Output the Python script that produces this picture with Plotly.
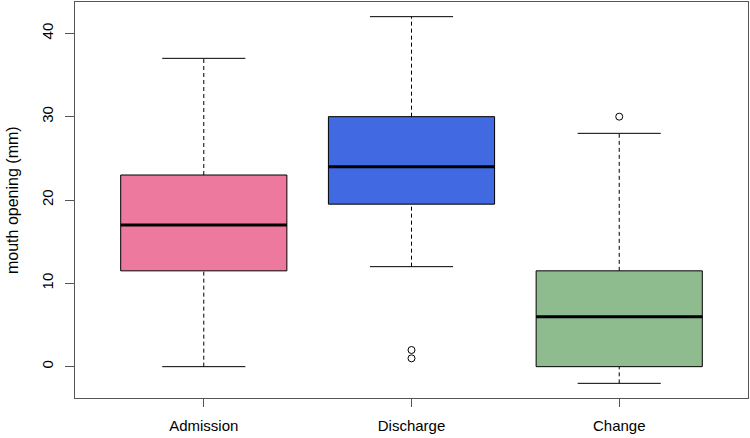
import plotly.graph_objects as go

categories = ["Admission", "Discharge", "Change"]
lower_whisker = [0, 12, -2]
q1 = [11.5, 19.5, 0]
median = [17, 24, 6]
q3 = [23, 30, 11.5]
upper_whisker = [37, 42, 28]
outliers = [[], [1, 2], [30]]
colors = ["#EE799F", "#4169E1", "#8FBC8F"]

y_ticks = [0, 10, 20, 30, 40]

half_box = 0.4
half_cap = 0.2

fig = go.Figure()
for i, name in enumerate(categories):
    x = i + 1
    fig.add_trace(go.Scatter(
        x=[x, x, None, x, x],
        y=[q3[i], upper_whisker[i], None, lower_whisker[i], q1[i]],
        mode="lines", line=dict(color="black", width=1, dash="4px,3px"),
        showlegend=False, hoverinfo="skip"))
    fig.add_trace(go.Scatter(
        x=[x - half_cap, x + half_cap, None, x - half_cap, x + half_cap],
        y=[upper_whisker[i], upper_whisker[i], None, lower_whisker[i], lower_whisker[i]],
        mode="lines", line=dict(color="black", width=1),
        showlegend=False, hoverinfo="skip"))
    fig.add_trace(go.Scatter(
        x=[x - half_box, x + half_box, x + half_box, x - half_box, x - half_box],
        y=[q1[i], q1[i], q3[i], q3[i], q1[i]],
        mode="lines", fill="toself", fillcolor=colors[i],
        line=dict(color="black", width=1), name=name, showlegend=False))
    fig.add_trace(go.Scatter(
        x=[x - half_box, x + half_box], y=[median[i], median[i]],
        mode="lines", line=dict(color="black", width=3),
        showlegend=False, hoverinfo="skip"))
    if outliers[i]:
        fig.add_trace(go.Scatter(
            x=[x] * len(outliers[i]), y=outliers[i], mode="markers",
            marker=dict(symbol="circle-open", size=7, color="black",
                        line=dict(width=1, color="black")),
            showlegend=False))

font = "Liberation Sans, Arial, sans-serif"
fig.update_layout(
    width=750, height=438,
    margin=dict(l=75, r=2, t=2, b=40),
    paper_bgcolor="white", plot_bgcolor="white",
    font=dict(family=font, color="black", size=15),
    xaxis=dict(range=[0.38, 3.62], tickvals=[1, 2, 3], ticktext=categories,
               automargin=False,
               showgrid=False, zeroline=False, showline=True, mirror=True,
               linecolor="#555", linewidth=1, ticks="outside", ticklen=8,
               tickcolor="#555", ticklabelstandoff=6,
               tickfont=dict(size=15, family=font)),
    yaxis=dict(range=[-3.76, 43.76], tickvals=y_ticks, automargin=False,
               showgrid=False, zeroline=False, showline=True, mirror=True,
               linecolor="#555", linewidth=1, ticks="outside", ticklen=9,
               tickcolor="#555", tickangle=-90, ticklabelstandoff=6,
               tickfont=dict(size=15, family=font)),
    annotations=[dict(text="mouth opening (mm)", xref="paper", yref="paper",
                      x=0, y=0.5, xshift=-63, xanchor="center", yanchor="middle",
                      textangle=-90, showarrow=False,
                      font=dict(size=16, family=font, color="black"))],
)

fig.write_html("out.html", config={"displayModeBar": False},
               post_script="document.body.style.margin='0';document.body.style.overflow='hidden';")
